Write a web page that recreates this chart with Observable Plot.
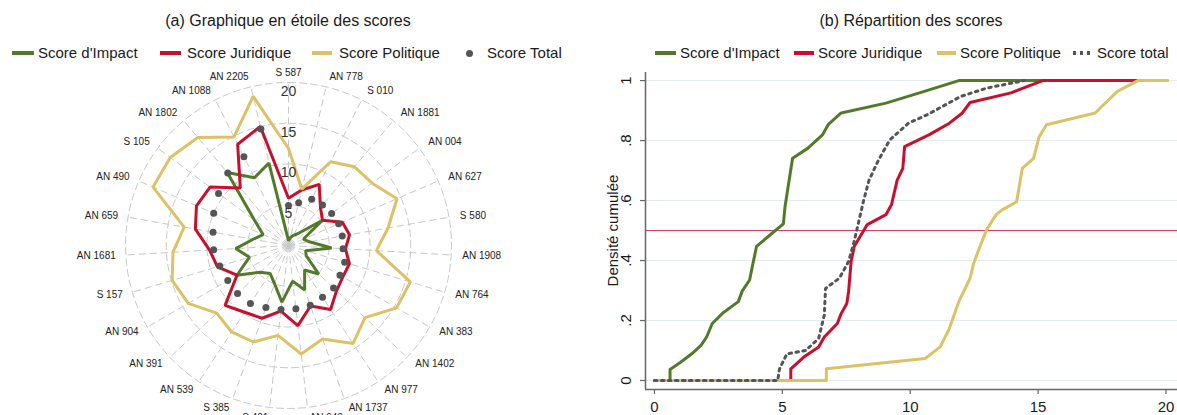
<!DOCTYPE html>
<html>
<head>
<meta charset="utf-8">
<script src="https://cdn.jsdelivr.net/npm/d3@7"></script>
<script src="https://cdn.jsdelivr.net/npm/@observablehq/plot@0.6"></script>
<style>
  body { margin:0; width:1177px; height:415px; position:relative; overflow:hidden; background:#fff;
         font-family:"Liberation Sans", Arial, sans-serif; color:#1a1a1a; }
  .title { position:absolute; top:12px; font-size:16px; line-height:18px; white-space:nowrap; transform:translateX(-50%); }
  .ltxt { position:absolute; top:44px; font-size:15px; line-height:18px; white-space:nowrap; }
  .sw { position:absolute; top:51px; height:4px; }
  .panel { position:absolute; top:62px; }
</style>
</head>
<body>
<div id="root"></div>
<script>
// ---------- DATA ----------
const cats = ["S 587","AN 778","S 010","AN 1881","AN 004","AN 627","S 580","AN 1908","AN 764","AN 383",
  "AN 1402","AN 977","AN 1737","AN 949","S 401","S 385","AN 539","AN 391","AN 904","S 157",
  "AN 1681","AN 659","AN 490","S 105","AN 1802","AN 1088","AN 2205"];
const impact    = [0.6, 1.0, 1.4, 2.0, 5.2, 2.0, 2.6, 5.3, 2.2, 2.5, 5.1, 3.6, 5.8, 4.4, 7.0, 5.0, 4.1, 4.8, 7.3, 5.0, 6.5, 4.4, 3.4, 5.2, 11.7, 9.3, 10.4];
const juridique = [5.8, 7.0, 8.4, 6.1, 5.2, 7.2, 7.6, 7.0, 7.8, 7.7, 8.1, 9.4, 7.9, 9.9, 8.1, 9.5, 9.8, 10.7, 7.3, 9.1, 9.7, 11.6, 12.3, 12.0, 9.2, 13.9, 15.0];
const politique = [11.9, 7.1, 11.5, 12.6, 12.8, 14.5, 12.4, 10.8, 15.6, 15.3, 12.9, 14.4, 12.2, 13.4, 11.1, 12.6, 12.7, 12.1, 14.2, 14.9, 14.2, 13.0, 18.1, 18.1, 17.3, 14.9, 18.8];
const total     = [4.9, 5.4, 6.35, 6.5, 6.6, 6.7, 6.7, 6.7, 7.2, 7.3, 7.6, 7.6, 7.8, 7.8, 7.9, 8.1, 8.5, 8.6, 8.6, 8.8, 9.2, 9.4, 10.0, 10.7, 11.6, 12.2, 14.7];
const ringTicks = [5, 10, 15, 20];

const cdfImpactX = [0, 0.61, 0.61, 1.02, 1.46, 1.82, 2.04, 2.26, 2.70, 3.28, 3.43, 3.72, 3.80, 3.99, 4.53, 5.04, 5.11, 5.40, 5.99, 6.57, 6.79, 7.30, 9.05, 10.36, 11.9, 20];
const cdfImpactY = [0, 0, 0.037, 0.061, 0.089, 0.117, 0.145, 0.19, 0.227, 0.263, 0.298, 0.335, 0.369, 0.447, 0.486, 0.522, 0.583, 0.741, 0.774, 0.819, 0.853, 0.892, 0.925, 0.959, 1, 1];
const cdfJurX = [0, 5.33, 5.33, 5.84, 6.42, 6.64, 7.15, 7.30, 7.52, 7.59, 7.69, 7.81, 8.32, 9.05, 9.27, 9.49, 9.71, 9.78, 10.73, 11.53, 12.04, 12.34, 13.94, 15.18, 20];
const cdfJurY = [0, 0, 0.039, 0.078, 0.112, 0.145, 0.19, 0.223, 0.257, 0.296, 0.397, 0.447, 0.52, 0.553, 0.587, 0.668, 0.707, 0.78, 0.819, 0.858, 0.892, 0.927, 0.959, 1, 1];
const cdfPolX = [0, 6.72, 6.72, 10.58, 11.17, 11.53, 11.9, 12.34, 12.48, 12.70, 12.99, 13.36, 13.58, 14.16, 14.38, 14.82, 15.04, 15.33, 17.23, 18.10, 18.9, 20.07];
const cdfPolY = [0, 0, 0.039, 0.073, 0.112, 0.173, 0.263, 0.341, 0.391, 0.441, 0.503, 0.553, 0.568, 0.596, 0.707, 0.741, 0.813, 0.853, 0.892, 0.964, 1, 1];
const cdfTotX = [0, 4.82, 4.89, 5.18, 5.91, 6.42, 6.64, 6.69, 7.23, 7.59, 7.81, 8.18, 8.39, 8.76, 9.2, 9.93, 10.66, 11.97, 12.99, 14.45];
const cdfTotY = [0, 0, 0.039, 0.089, 0.1, 0.14, 0.218, 0.307, 0.341, 0.397, 0.464, 0.601, 0.668, 0.735, 0.802, 0.858, 0.886, 0.947, 0.975, 1];

const xTicks = [0, 5, 10, 15, 20];
const yTicks = [0, 0.2, 0.4, 0.6, 0.8, 1];
const yTickLabels = ["0", ".2", ".4", ".6", ".8", "1"];
const refLine = [0.5];

const titleA = "(a) Graphique en étoile des scores";
const titleB = "(b) Répartition des scores";
const legendA = ["Score d'Impact", "Score Juridique", "Score Politique", "Score Total"];
const legendB = ["Score d'Impact", "Score Juridique", "Score Politique", "Score total"];
const yLabel = "Densité cumulée";

// ---------- STYLE ----------
const GREEN = "#527a2a", RED = "#c8102e", YELLOW = "#dcc266", GRAY = "#555555", GRID = "#c8c8c8";
const FONT = "'Liberation Sans', Arial, sans-serif";

const body = document.body;
function addDiv(cls, css, text) {
  const d = document.createElement("div");
  d.className = cls; d.style.cssText = css; if (text != null) d.textContent = text;
  body.appendChild(d); return d;
}
addDiv("title", "left:288px", titleA);
addDiv("title", "left:911px", titleB);

// legend A
const swA = [[12, 22], [160, 21], [312, 20]];
const txA = [38, 187, 339, 487];
const colSeries = [GREEN, RED, YELLOW];
swA.forEach(([l, w], k) => addDiv("sw", `left:${l}px;width:${w}px;background:${colSeries[k]}`));
addDiv("sw", `left:465.5px;top:49.5px;width:7px;height:7px;border-radius:50%;background:${GRAY}`);
legendA.forEach((t, k) => addDiv("ltxt", `left:${txA[k]}px`, t));
// legend B
const swB = [[655, 21], [794, 20], [937, 19]];
const txB = [680, 818, 960, 1097];
swB.forEach(([l, w], k) => addDiv("sw", `left:${l}px;width:${w}px;background:${colSeries[k]}`));
addDiv("sw", `left:1073px;top:51px;width:21px;height:3.5px;background:repeating-linear-gradient(90deg, ${GRAY} 0 3px, transparent 3px 7px)`);
legendB.forEach((t, k) => addDiv("ltxt", `left:${txB[k]}px`, t));

// ---------- RADAR ----------
const K = 8.15, W1 = 580, H1 = 353, CX = 288, CY = 183;
const N = cats.length;
const ang = i => 2 * Math.PI * i / N;
const rows = vals => vals.map((v, i) => ({cat: cats[i], i, v}));
const px = d => d.v * Math.sin(ang(d.i));
const py = d => d.v * Math.cos(ang(d.i));
const catRows = cats.map((c, i) => ({cat: c, i}));
const LR = 173 / K;
const lx = d => LR * Math.sin(ang(d.i));
const ly = d => LR * Math.cos(ang(d.i));
const sinOf = d => Math.sin(ang(d.i));
const ringPts = ringTicks.flatMap(v => d3.range(0, 361, 2).map(a => ({v, a})));

const radar = Plot.plot({
  width: W1, height: H1,
  style: {fontFamily: FONT, background: "transparent", overflow: "visible"},
  x: {domain: [-CX / K, (W1 - CX) / K], range: [0, W1], axis: null},
  y: {domain: [-(H1 - CY) / K, CY / K], range: [H1, 0], axis: null},
  marks: [
    Plot.link(catRows, {x1: () => 0, y1: () => 0,
      x2: d => 20 * Math.sin(ang(d.i)), y2: d => 20 * Math.cos(ang(d.i)),
      stroke: GRID, strokeWidth: 1, strokeDasharray: "7,4"}),
    Plot.line(ringPts, {x: d => d.v * Math.sin(d.a * Math.PI / 180), y: d => d.v * Math.cos(d.a * Math.PI / 180),
      z: "v", stroke: GRID, strokeWidth: 1, strokeDasharray: "7,4"}),
    Plot.line(rows(impact), {x: px, y: py, curve: "linear-closed", stroke: GREEN, strokeWidth: 3, strokeLinejoin: "miter"}),
    Plot.line(rows(juridique), {x: px, y: py, curve: "linear-closed", stroke: RED, strokeWidth: 3, strokeLinejoin: "miter"}),
    Plot.line(rows(politique), {x: px, y: py, curve: "linear-closed", stroke: YELLOW, strokeWidth: 3, strokeLinejoin: "miter"}),
    Plot.dot(rows(total), {x: px, y: py, r: 3.5, fill: GRAY}),
    Plot.text(ringTicks, {x: () => 0, y: d => d, dy: 9, text: d => String(d), fontSize: 14, fill: "#333"}),
    Plot.text(catRows.filter(d => sinOf(d) > 0.01), {x: lx, y: ly, dx: 1, text: "cat", textAnchor: "start", lineAnchor: "middle", fontSize: 10, fill: "#222"}),
    Plot.text(catRows.filter(d => sinOf(d) < -0.01), {x: lx, y: ly, text: "cat", textAnchor: "end", lineAnchor: "middle", fontSize: 10, fill: "#222"}),
    Plot.text(catRows.filter(d => Math.abs(sinOf(d)) <= 0.01), {x: lx, y: ly, text: "cat", textAnchor: "middle", lineAnchor: "middle", fontSize: 10, fill: "#222"})
  ]
});
const pa = document.createElement("div"); pa.className = "panel"; pa.style.left = "0px";
pa.appendChild(radar); body.appendChild(pa);

// ---------- CDF ----------
const tbl = (xs, ys) => xs.map((x, i) => ({x, y: ys[i]}));
const X0 = -0.35, X1 = 20.45, Y0 = -0.03, Y1 = 1.027;
const cdf = Plot.plot({
  width: 587, height: 353,
  style: {fontFamily: FONT, background: "transparent"},
  x: {domain: [X0, X1], range: [55, 587], axis: null},
  y: {domain: [Y0, Y1], range: [327, 10], axis: null},
  marks: [
    Plot.ruleY(yTicks, {x1: X0, x2: X1, stroke: "#e2ebee", strokeWidth: 1}),
    Plot.ruleY(refLine, {x1: X0, x2: X1, stroke: "#d23a5c", strokeWidth: 1}),
    Plot.line(tbl(cdfImpactX, cdfImpactY), {x: "x", y: "y", stroke: GREEN, strokeWidth: 3, strokeLinejoin: "round"}),
    Plot.line(tbl(cdfJurX, cdfJurY), {x: "x", y: "y", stroke: RED, strokeWidth: 3, strokeLinejoin: "round"}),
    Plot.line(tbl(cdfPolX, cdfPolY), {x: "x", y: "y", stroke: YELLOW, strokeWidth: 3, strokeLinejoin: "round"}),
    Plot.line(tbl(cdfTotX, cdfTotY), {x: "x", y: "y", stroke: GRAY, strokeWidth: 3, strokeDasharray: "2.5,4.5"}),
    Plot.ruleX([X0], {y1: Y0, y2: Y1, stroke: "#666", strokeWidth: 1.5}),
    Plot.ruleY([Y0], {x1: X0, x2: X1, stroke: "#666", strokeWidth: 1.5}),
    Plot.ruleX(xTicks, {x: d => d, y1: Y0, y2: Y0 - 5 / 300, stroke: "#666", strokeWidth: 1.2}),
    Plot.ruleY(yTicks, {y: d => d, x1: X0, x2: X0 - 5 / 25.6, stroke: "#666", strokeWidth: 1.2}),
    Plot.text(xTicks, {x: d => d, y: () => Y0, dy: 18, text: d => String(d), fontSize: 15, fill: "#1a1a1a", textAnchor: "middle", lineAnchor: "middle"}),
    Plot.text(yTicks, {x: X0, y: d => d, dx: -19.5, rotate: -90, text: (d, i) => yTickLabels[i], fontSize: 15, fill: "#1a1a1a", textAnchor: "middle", lineAnchor: "middle"}),
    Plot.text([yLabel], {x: X0, y: () => 0.5, dx: -32, rotate: -90, text: d => d, fontSize: 15, fill: "#1a1a1a", textAnchor: "middle", lineAnchor: "middle"})
  ]
});
const pb = document.createElement("div"); pb.className = "panel"; pb.style.left = "590px";
pb.appendChild(cdf); body.appendChild(pb);
</script>
</body>
</html>
